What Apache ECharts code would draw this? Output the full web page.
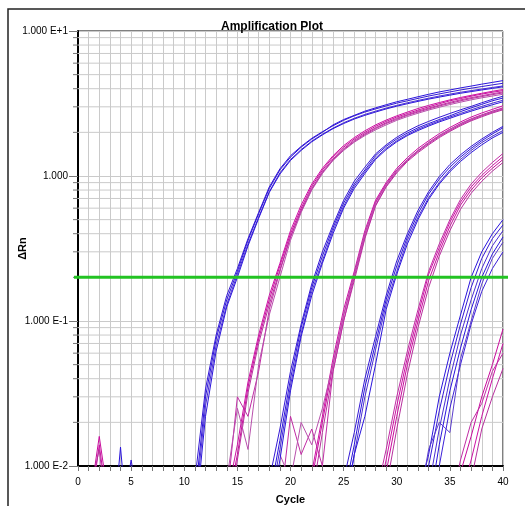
<!DOCTYPE html>
<html><head><meta charset="utf-8">
<script src="https://cdn.jsdelivr.net/npm/echarts@6/dist/echarts.min.js"></script>
<style>html,body{margin:0;padding:0;background:#fff}#c{width:525px;height:506px}</style>
</head><body><div id="c"></div>
<script>
// ---------- data ----------
const titleText = 'Amplification Plot';
const xName = 'Cycle';
const yName = '\u0394Rn';
const xMin = 0, xMax = 40;
const xLabelEvery = 5;
const yTickExps = [-2, -1, 0, 1];
const yTickLabels = ['1.000 E-2', '1.000 E-1', '1.000', '1.000 E+1'];
const yMinorValues = [0.02,0.03,0.04,0.05,0.06,0.07,0.08,0.09,0.2,0.3,0.4,0.5,0.6,0.7,0.8,0.9,2,3,4,5,6,7,8,9];
const threshold = 0.2;

// group A (blue) – first cycle of each replicate, then values per cycle
const aStart = [11, 11, 11, 11];
const aCurves = [
  [0.006,0.03,0.075,0.14,0.22,0.36,0.55,0.82,1.1,1.35,1.58,1.8,2.0,2.25,2.45,2.62,2.8,2.95,3.1,3.25,3.38,3.52,3.66,3.8,3.92,4.05,4.17,4.3,4.42,4.55],
  [0.008,0.034,0.08,0.15,0.23,0.37,0.56,0.84,1.12,1.38,1.6,1.82,2.02,2.22,2.42,2.6,2.76,2.9,3.04,3.18,3.3,3.43,3.56,3.68,3.8,3.92,4.03,4.14,4.25,4.36],
  [0.005,0.026,0.068,0.13,0.21,0.34,0.52,0.78,1.05,1.3,1.52,1.74,1.94,2.14,2.33,2.5,2.66,2.8,2.94,3.07,3.2,3.32,3.44,3.56,3.67,3.78,3.88,3.98,4.08,4.18],
  [0.004,0.022,0.062,0.125,0.2,0.33,0.51,0.77,1.03,1.28,1.5,1.72,1.92,2.12,2.3,2.47,2.62,2.76,2.9,3.03,3.15,3.27,3.39,3.5,3.61,3.72,3.82,3.92,4.02,4.12]
];
// group B (magenta)
const bStart = [14, 14, 14, 14, 14];
const bCurves = [
  [0.005,0.012,0.035,0.075,0.14,0.24,0.4,0.6,0.85,1.1,1.35,1.58,1.8,2.0,2.2,2.38,2.55,2.7,2.85,3.0,3.15,3.3,3.42,3.55,3.67,3.78,3.88],
  [0.006,0.014,0.038,0.08,0.15,0.25,0.42,0.63,0.88,1.13,1.38,1.62,1.84,2.05,2.25,2.43,2.6,2.76,2.92,3.07,3.21,3.35,3.48,3.6,3.72,3.84,3.95],
  [0.004,0.011,0.032,0.07,0.13,0.225,0.38,0.57,0.81,1.05,1.29,1.52,1.73,1.93,2.12,2.3,2.46,2.62,2.76,2.9,3.04,3.17,3.3,3.42,3.53,3.64,3.74],
  [0.006,0.03,0.022,0.045,0.12,0.22,0.38,0.58,0.82,1.07,1.31,1.54,1.76,1.96,2.15,2.33,2.5,2.65,2.8,2.94,3.08,3.22,3.35,3.47,3.58,3.69,3.8],
  [0.008,0.025,0.013,0.05,0.11,0.2,0.36,0.56,0.8,1.04,1.28,1.5,1.71,1.9,2.08,2.25,2.42,2.57,2.71,2.85,2.98,3.11,3.23,3.35,3.46,3.56,3.66]
];
// group C (blue)
const cStart = [18, 18, 18, 18];
const cCurves = [
  [0.006,0.015,0.04,0.09,0.17,0.28,0.44,0.65,0.88,1.1,1.38,1.6,1.8,1.98,2.15,2.3,2.45,2.6,2.78,2.95,3.12,3.3,3.45],
  [0.008,0.018,0.045,0.095,0.18,0.3,0.46,0.68,0.92,1.15,1.42,1.64,1.85,2.04,2.22,2.38,2.54,2.7,2.86,3.02,3.2,3.38,3.55],
  [0.005,0.013,0.036,0.082,0.16,0.26,0.42,0.62,0.85,1.07,1.33,1.55,1.75,1.93,2.1,2.25,2.4,2.55,2.7,2.86,3.02,3.18,3.33],
  [0.004,0.011,0.033,0.078,0.15,0.25,0.4,0.6,0.82,1.04,1.3,1.52,1.72,1.9,2.06,2.21,2.36,2.5,2.65,2.8,2.95,3.1,3.25]
];
// group D (magenta)
const dStart = [22, 22, 22, 19, 19];
const dCurves = [
  [0.008,0.02,0.05,0.11,0.21,0.4,0.66,0.88,1.1,1.3,1.5,1.7,1.9,2.1,2.3,2.48,2.64,2.8,2.95],
  [0.009,0.022,0.055,0.12,0.22,0.42,0.68,0.9,1.13,1.34,1.55,1.75,1.96,2.16,2.36,2.55,2.72,2.88,3.05],
  [0.006,0.017,0.045,0.1,0.19,0.37,0.62,0.84,1.05,1.26,1.45,1.64,1.84,2.03,2.22,2.4,2.56,2.72,2.86],
  [0.005,0.022,0.012,0.018,0.01,0.045,0.1,0.2,0.38,0.63,0.85,1.07,1.28,1.48,1.67,1.87,2.06,2.25,2.43,2.6,2.75,2.9],
  [0.012,0.008,0.02,0.014,0.025,0.05,0.11,0.21,0.4,0.65,0.87,1.09,1.3,1.5,1.7,1.9,2.1,2.28,2.46,2.62,2.78,2.92]
];
// group E (blue)
const eStart = [25, 25, 25, 25];
const eCurves = [
  [0.006,0.014,0.035,0.07,0.14,0.24,0.38,0.55,0.75,0.95,1.15,1.35,1.55,1.75,1.95,2.15],
  [0.008,0.017,0.04,0.078,0.15,0.26,0.4,0.58,0.78,0.99,1.2,1.4,1.6,1.8,2.0,2.2],
  [0.005,0.012,0.03,0.063,0.13,0.22,0.36,0.52,0.71,0.9,1.1,1.3,1.5,1.7,1.88,2.06],
  [0.004,0.012,0.022,0.05,0.12,0.21,0.34,0.5,0.69,0.88,1.07,1.26,1.45,1.64,1.83,2.0]
];
// group F (magenta)
const fStart = [28, 28, 28, 28];
const fCurves = [
  [0.004,0.009,0.022,0.05,0.1,0.19,0.3,0.45,0.63,0.8,0.97,1.13,1.3],
  [0.005,0.011,0.026,0.056,0.11,0.21,0.32,0.48,0.66,0.84,1.01,1.18,1.36],
  [0.003,0.007,0.018,0.043,0.09,0.17,0.28,0.42,0.59,0.76,0.92,1.08,1.24],
  [0.006,0.013,0.03,0.062,0.12,0.22,0.34,0.5,0.69,0.88,1.06,1.24,1.43]
];
// group G (blue)
const gStart = [31, 31, 31, 31, 31, 31];
const gCurves = [
  [0.003,0.006,0.012,0.03,0.06,0.11,0.2,0.3,0.4,0.5],
  [0.002,0.004,0.01,0.024,0.05,0.095,0.17,0.27,0.37,0.46],
  [0.002,0.003,0.007,0.018,0.04,0.08,0.14,0.23,0.33,0.42],
  [0.002,0.003,0.005,0.014,0.033,0.065,0.12,0.2,0.29,0.38],
  [0.001,0.002,0.004,0.01,0.025,0.05,0.095,0.16,0.23,0.3],
  [0.002,0.005,0.013,0.02,0.017,0.055,0.1,0.18,0.27,0.35]
];
// group H (magenta)
const hStart = [35, 35, 35, 35];
const hCurves = [
  [0.004,0.009,0.016,0.03,0.05,0.088],
  [0.003,0.006,0.011,0.022,0.04,0.07],
  [0.002,0.004,0.008,0.018,0.03,0.047],
  [0.005,0.011,0.02,0.027,0.045,0.06]
];
// early noise spikes
const spikeMagStart = [1, 1, 1];
const spikeMag = [[0.005,0.016,0.005],[0.004,0.014,0.004],[0.006,0.013,0.003]];
const spikeBlueStart = [3, 4];
const spikeBlue = [[0.002,0.0135,0.002],[0.004,0.011,0.004]];

// ---------- chart ----------
const FONT = "'Liberation Sans', Arial, sans-serif";
const BLUE = ['#2a14dc', '#3418d4', '#4a2ed2', '#2a14dc', '#3c20d8', '#5a3ccc'];
const MAG = ['#c80c9c', '#cc10a4', '#b8309e', '#c02ca4', '#b850ac'];

const series = [];
function addGroup(starts, curves, palette) {
  curves.forEach((vals, k) => {
    series.push({
      type: 'line', symbol: 'none', showSymbol: false, silent: true, clip: true,
      z: 3,
      lineStyle: { width: 1, color: palette[k % palette.length] },
      data: vals.map((v, i) => [starts[k] + i, v])
    });
  });
}
addGroup(spikeMagStart, spikeMag, MAG);
addGroup(spikeBlueStart, spikeBlue, BLUE);
addGroup(hStart, hCurves, MAG);
addGroup(gStart, gCurves, BLUE);
addGroup(fStart, fCurves, MAG);
addGroup(eStart, eCurves, BLUE);
addGroup(dStart, dCurves, MAG);
addGroup(cStart, cCurves, BLUE);
addGroup(bStart, bCurves, MAG);
addGroup(aStart, aCurves, BLUE);

// minor log grid lines + minor ticks
series.push({
  type: 'custom', silent: true, z: 1, clip: false,
  data: yMinorValues.map(v => [xMin, v]),
  renderItem: function (params, api) {
    const v = api.value(1);
    const p0 = api.coord([xMin, v]);
    const p1 = api.coord([xMax, v]);
    return { type: 'group', children: [
      { type: 'line', shape: { x1: p0[0], y1: p0[1], x2: p1[0], y2: p1[1] }, style: { stroke: '#cacaca', lineWidth: 1 } },
      { type: 'line', shape: { x1: p0[0] - 5, y1: p0[1], x2: p0[0], y2: p0[1] }, style: { stroke: '#777', lineWidth: 1 } }
    ]};
  }
});
// threshold line
series.push({
  type: 'custom', silent: true, z: 10, clip: false,
  data: [[xMin, threshold]],
  renderItem: function (params, api) {
    const v = api.value(1);
    const p0 = api.coord([xMin, v]);
    const p1 = api.coord([xMax, v]);
    return { type: 'line', shape: { x1: p0[0] - 4, y1: p0[1], x2: p1[0] + 5, y2: p1[1] }, style: { stroke: '#22c322', lineWidth: 3 } };
  }
});

const chart = echarts.init(document.getElementById('c'), null, { renderer: 'canvas' });
chart.setOption({
  animation: false,
  backgroundColor: '#fff',
  title: {
    text: titleText, left: 267, top: 16, textAlign: 'center',
    textStyle: { fontFamily: FONT, fontSize: 12, fontWeight: 'bold', color: '#000' }
  },
  grid: { left: 78, right: 22, top: 31, bottom: 40, containLabel: false, outerBoundsMode: 'none',
    show: true, borderColor: '#000', borderWidth: 1, backgroundColor: 'transparent' },
  xAxis: {
    type: 'value', min: xMin, max: xMax, interval: 1,
    name: xName, nameLocation: 'middle', nameGap: 28, nameMoveOverlap: false,
    nameTextStyle: { fontFamily: FONT, fontSize: 11, fontWeight: 'bold', color: '#000' },
    axisLine: { lineStyle: { color: '#000', width: 2 } },
    axisTick: { length: 5, lineStyle: { color: '#777' } },
    axisLabel: { margin: 11, fontFamily: FONT, fontSize: 10, color: '#000',
      formatter: v => (Math.round(v) % xLabelEvery === 0 ? String(Math.round(v)) : '') },
    splitLine: { show: true, lineStyle: { color: '#cacaca', width: 1 } }
  },
  yAxis: {
    type: 'log', logBase: 10, min: 0.01, max: 10, splitNumber: 3,
    name: yName, nameLocation: 'middle', nameRotate: 90, nameGap: 50, nameMoveOverlap: false,
    nameTextStyle: { fontFamily: FONT, fontSize: 11, fontWeight: 'bold', color: '#000' },
    axisLine: { show: true, lineStyle: { color: '#000', width: 2 } },
    axisTick: { show: true, length: 9, lineStyle: { color: '#777' } },
    axisLabel: { margin: 10, fontFamily: FONT, fontSize: 10, color: '#000',
      formatter: v => { const e = Math.round(Math.log10(v)); const i = yTickExps.indexOf(e); return i >= 0 ? yTickLabels[i] : ''; } },
    splitLine: { show: true, lineStyle: { color: '#cacaca', width: 1 } }
  },
  graphic: [{
    type: 'polyline', silent: true, z: 0,
    shape: { points: [[8, 506], [8, 9], [525, 9]] },
    style: { stroke: '#222', lineWidth: 1.5, fill: null }
  }],
  series: series
});
</script></body></html>
